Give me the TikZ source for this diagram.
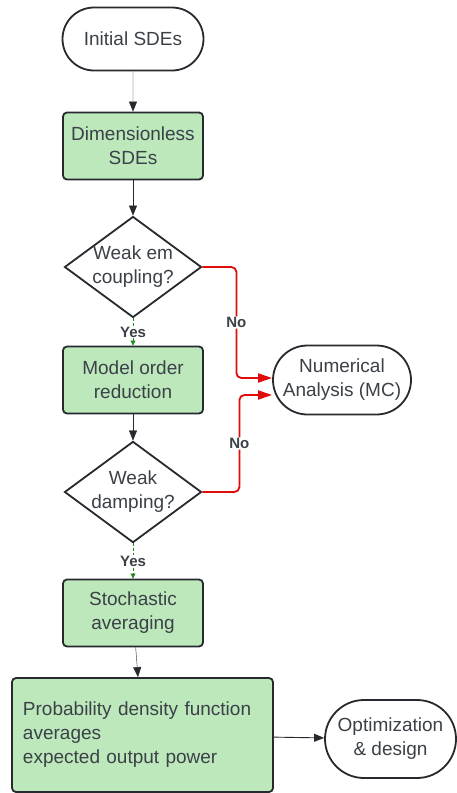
\documentclass[tikz,border=0pt]{standalone}
\usepackage{fontspec}
\setmainfont{Liberation Sans}
\usetikzlibrary{arrows.meta,positioning,shapes.geometric,shapes.misc}
\definecolor{ink}{HTML}{3B4147}
\definecolor{frame}{HTML}{26292D}
\definecolor{boxfill}{HTML}{BDE8BC}
\definecolor{noline}{HTML}{E00B0B}
\definecolor{yesline}{HTML}{1E8A1E}
\tikzset{>={Triangle[length=10pt,width=8pt]},line width=1.5pt,
  every node/.style={font=\fontsize{19}{24}\selectfont,text=ink},
  terminal/.style={rounded rectangle,draw=frame,fill=white,align=center,inner sep=0pt,line width=1.8pt},
  process/.style={rectangle,rounded corners=4pt,draw=frame,fill=boxfill,align=center,
    minimum width=140pt,minimum height=67pt,inner sep=0pt,line width=1.8pt},
  decision/.style={diamond,draw=frame,fill=white,align=center,inner sep=-6pt,
    minimum width=137pt,minimum height=101pt,line width=1.8pt},
  flow/.style={->,draw=frame},
  yesflow/.style={-{Triangle[length=5pt,width=5pt]},draw=yesline,dash pattern=on 3pt off 2pt},
  noflow/.style={-{Triangle[length=14pt,width=9pt]},draw=noline,line width=1.8pt,rounded corners=5pt},
  tag/.style={fill=white,inner sep=1pt,font=\fontsize{15}{18}\bfseries\selectfont}}

\begin{document}
\begin{tikzpicture}[x=1pt,y=-1pt]
\useasboundingbox (0,0) rectangle (456,793);
% main column
\node[terminal,minimum width=141pt,minimum height=63pt] (init) at (133,39) {Initial SDEs};
\node[process] (dimless) at (133,146) {Dimensionless\\SDEs};
\node[decision] (weakem) at (133,267) {Weak em\\coupling?};
\node[process] (mor) at (133,380) {Model order\\reduction};
\node[decision] (weakdamp) at (133,492) {Weak\\damping?};
\node[process] (stoch) at (133,613) {Stochastic\\averaging};
\node[process,minimum width=261pt,minimum height=114pt,text width=239pt,align=left] (pdf) at (142.5,735)
  {Probability density function\\averages\\expected output power};
% side nodes
\node[terminal,minimum width=138pt,minimum height=69pt] (numan) at (342,380) {Numerical\\Analysis (MC)};
\node[terminal,minimum width=131pt,minimum height=78pt] (optim) at (390.5,739) {Optimization\\\& design};

\draw[flow] (init) -- (dimless);
\draw[flow] (dimless) -- (weakem);
\draw[yesflow] (weakem) -- (mor) node[tag,midway] {Yes};
\draw[flow] (mor) -- (weakdamp);
\draw[yesflow] (weakdamp) -- (stoch) node[tag,midway] {Yes};
\draw[flow] (stoch) -- (pdf);
\draw[flow,line width=.9pt] (pdf) -- (optim);
\draw[noflow] (weakem.east) -- ++(34,0) |- ([yshift=2pt]numan.west) node[tag,pos=.25] {No};
\draw[noflow] (weakdamp.east) -- ++(37,0) |- ([yshift=-15pt]numan.west) node[tag,pos=.25] {No};
\end{tikzpicture}
\end{document}
